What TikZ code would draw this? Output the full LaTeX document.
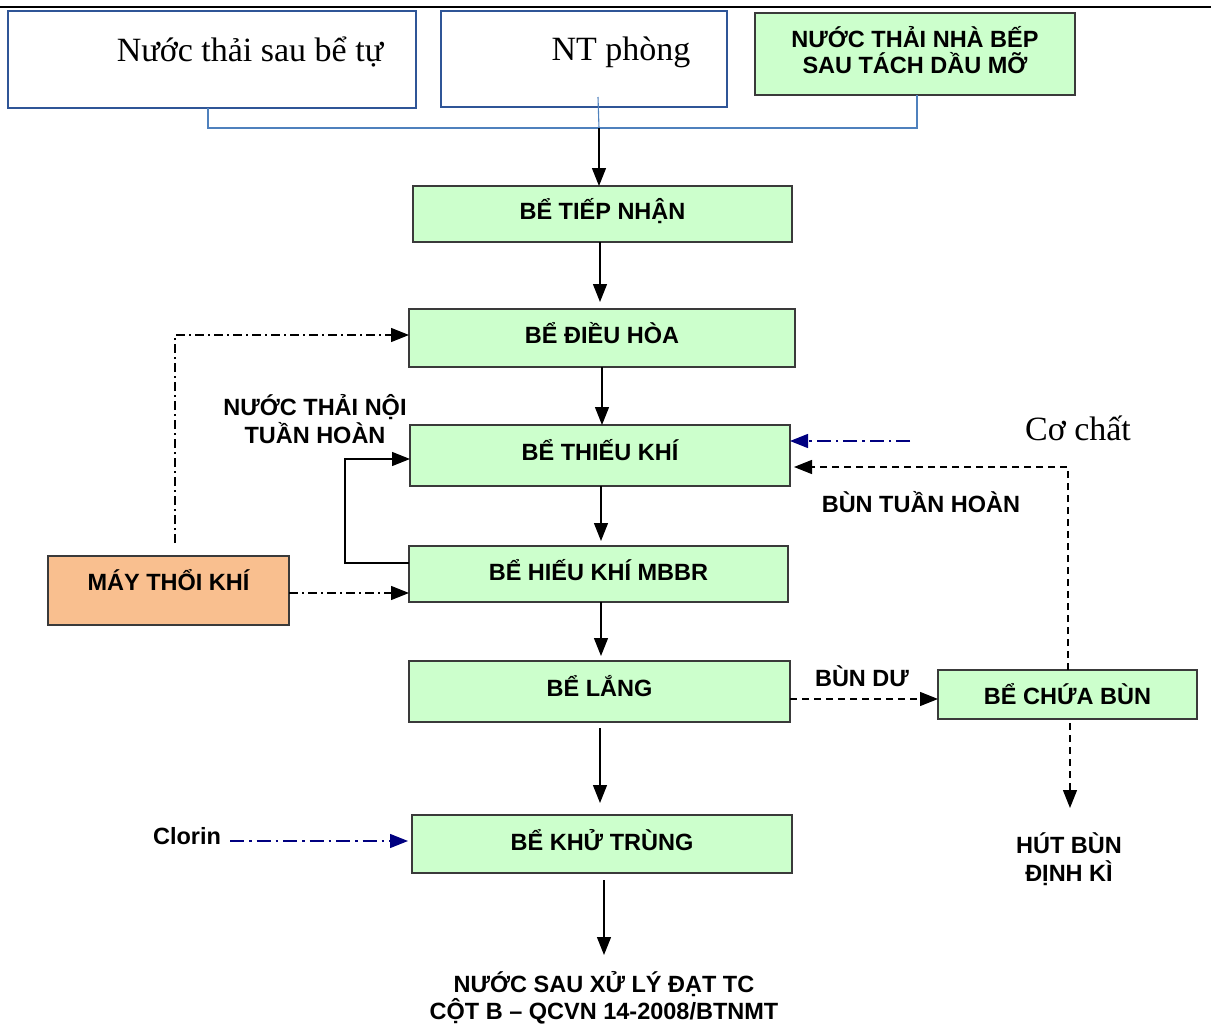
\documentclass[tikz,border=0pt]{standalone}
\usepackage{fontspec}
\setmainfont{Liberation Serif}
\newfontfamily\arialf{Liberation Sans}
\usetikzlibrary{arrows.meta,calc}
\definecolor{boxgreen}{HTML}{CCFFCC}
\definecolor{boxedge}{HTML}{3A3A3A}
\definecolor{peach}{HTML}{F9BF8F}
\definecolor{frameblue}{HTML}{2F5597}
\definecolor{lineblue}{HTML}{4F81BD}
\definecolor{navyc}{HTML}{000080}
\newcommand{\upby}[2]{\raisebox{#1}[\height][\depth]{#2}}
\begin{document}
\begin{tikzpicture}[x=1pt,y=-1pt,
  gbox/.style={draw=boxedge, fill=boxgreen, line width=1.3pt, inner sep=0pt, outer sep=0pt,
    font=\arialf\bfseries\fontsize{23.5}{27}\selectfont, align=center},
  obox/.style={gbox, fill=peach},
  wbox/.style={draw=frameblue, fill=white, line width=2.8pt, inner sep=0pt, outer sep=0pt},
  lbl/.style={font=\arialf\bfseries\fontsize{23.5}{27.5}\selectfont, align=center, inner sep=0pt},
  serif/.style={font=\fontsize{34}{40}\selectfont, inner sep=0pt},
  tip/.style={-{Triangle[length=18pt,width=14pt]}},
  arr/.style={tip, line width=1.2pt, black},
  blueline/.style={draw=lineblue, line width=1.1pt},
  dashdot/.style={tip, line width=1.2pt, black, dash pattern=on 9pt off 4pt on 2pt off 4pt},
  navydd/.style={-{Triangle[length=18pt,width=14pt]}, line width=1.2pt, navyc, dash pattern=on 14pt off 5pt on 2.5pt off 5pt},
  dashline/.style={tip, line width=1.2pt, black, dash pattern=on 7pt off 5pt}
]
\useasboundingbox (0,0) rectangle (1211,1026);
\fill[white] (0,0) rectangle (1211,1026);
% top rule
\coordinate (rl) at (0,7);
\coordinate (rr) at (1211,7);
\draw[line width=2pt, black] (rl) -- (rr);

% source boxes
\node[wbox, minimum width=408pt, minimum height=97pt] (bA) at (212,59.5) {};
\node[serif] (tA) at (250,52) {Nước thải sau bể tự};
\node[wbox, minimum width=286pt, minimum height=96pt] (bB) at (584,59) {};
\node[serif] (tB) at (621,52) {NT phòng};
\node[gbox, minimum width=320pt, minimum height=82pt] (bC) at (915,54) {\upby{4pt}{\shortstack{NƯỚC THẢI NHÀ BẾP\\[2pt]SAU TÁCH DẦU MỠ}}};

% main boxes
\node[gbox, minimum width=379pt, minimum height=56pt] (b1) at (602.5,214) {\upby{3pt}{BỂ TIẾP NHẬN}};
\node[gbox, minimum width=386pt, minimum height=58pt] (b2) at (602,338) {\upby{5pt}{BỂ ĐIỀU HÒA}};
\node[gbox, minimum width=380pt, minimum height=61pt] (b3) at (600,455.5) {\upby{5.5pt}{BỂ THIẾU KHÍ}};
\node[gbox, minimum width=379pt, minimum height=56pt] (b4) at (598.5,574) {\upby{4pt}{BỂ HIẾU KHÍ MBBR}};
\node[gbox, minimum width=381pt, minimum height=61pt] (b5) at (599.5,691.5) {\upby{5.5pt}{BỂ LẮNG}};
\node[gbox, minimum width=380pt, minimum height=58pt] (b6) at (602,844) {\upby{4pt}{BỂ KHỬ TRÙNG}};
\node[gbox, minimum width=259pt, minimum height=49pt] (b7) at (1067.5,694.5) {BỂ CHỨA BÙN};
\node[obox, minimum width=241pt, minimum height=69pt] (bl) at (168.5,590.5) {\upby{10pt}{MÁY THỔI KHÍ}};

% labels
\node[lbl] (lnoi) at (315,419) {NƯỚC THẢI NỘI\\TUẦN HOÀN};
\node[lbl] (lbth) at (921,502) {BÙN TUẦN HOÀN};
\node[lbl] (lbd) at (862,676) {BÙN DƯ};
\node[lbl] (lhut) at (1069,859) {HÚT BÙN\\ĐỊNH KÌ};
\node[lbl] (lout) at (604,998) {NƯỚC SAU XỬ LÝ ĐẠT TC\\CỘT B – QCVN 14-2008/BTNMT};
\node[lbl] (lclo) at (187,836) {Clorin};
\node[serif] (lcc) at (1078,428) {Cơ chất};

% top collector
\coordinate (j) at (599,128);
\draw[blueline] ([xshift=-4pt]bA.south) |- (j);
\draw[blueline] ([xshift=2pt]bC.south) |- (j);
\draw[blueline] ([xshift=14pt,yshift=10pt]bB.south) -- (j);
\draw[arr] (j) -- (j |- b1.north);

% main flow
\draw[arr, shorten >=7pt] ([xshift=-2.5pt]b1.south) -- ([xshift=-2.5pt]b1.south |- b2.north);
\draw[arr] (b2.south) -- (b2.south |- b3.north);
\draw[arr, shorten >=5pt] ([xshift=1pt]b3.south) -- ([xshift=1pt]b3.south |- b4.north);
\draw[arr, shorten >=5pt] ([xshift=2.5pt]b4.south) -- ([xshift=2.5pt]b4.south |- b5.north);
\draw[arr, shorten <=6pt, shorten >=12pt] ([xshift=0.5pt]b5.south) -- ([xshift=0.5pt]b5.south |- b6.north);
\coordinate (outend) at (604,955);
\draw[arr, shorten <=7pt] (b6.south -| outend) -- (outend);

% internal recirculation
\draw[arr] ([yshift=11pt]b4.west) -- ++(-64,0) |- ([yshift=-3.5pt]b3.west);

% blower air
\draw[dashdot] ([xshift=6.5pt,yshift=13pt]bl.north) |- ([yshift=3pt]b2.west);
\draw[dashdot] ([yshift=-2.5pt]bl.east) -- ([yshift=-2.5pt]bl.east -| b4.west);

% chemicals
\coordinate (cc) at (910,441);
\draw[navydd] (cc) -- (cc -| b3.east);
\draw[navydd, shorten <=9pt, shorten >=4pt] (lclo.east |- 0,841) -- (b6.west |- 0,841);

% sludge
\draw[dashline, shorten >=4pt] ([xshift=0.5pt]b7.north) |- ([yshift=-11.5pt]b3.east);
\draw[dashline] ([yshift=-7.5pt]b5.east) -- ([yshift=-7.5pt]b5.east -| b7.west);
\coordinate (hutend) at (1070,808);
\draw[dashline, shorten <=4pt] (b7.south -| hutend) -- (hutend);
\end{tikzpicture}
\end{document}
